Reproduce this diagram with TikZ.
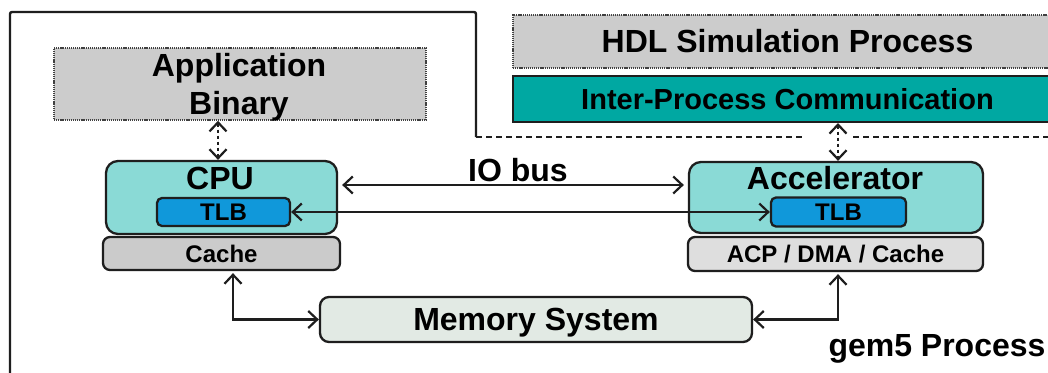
\documentclass[tikz,border=0pt]{standalone}
\usepackage{fontspec}
\setmainfont{Liberation Sans}
\usetikzlibrary{arrows.meta}

\definecolor{edge}{HTML}{1E1E1E}
\definecolor{grayfill}{HTML}{CCCCCC}
\definecolor{ipcfill}{HTML}{00A8A2}
\definecolor{corefill}{HTML}{8ADAD6}
\definecolor{tlbfill}{HTML}{1098DA}
\definecolor{cachefill}{HTML}{CBCBCB}
\definecolor{acpfill}{HTML}{DEDEDE}
\definecolor{memfill}{HTML}{E2EAE4}

\tikzset{
  big/.style={font=\bfseries\fontsize{32}{38}\selectfont, text height=22.9pt, text depth=0pt},
  small/.style={font=\bfseries\fontsize{24}{28}\selectfont, text height=17.2pt, text depth=0pt},
  box/.style={draw=edge, line width=2.3pt, inner sep=0pt},
  dotbox/.style={box, draw=edge!85, line width=1.6pt, dash pattern=on 1.2pt off 0.9pt, fill=grayfill},
  ipcbox/.style={box, fill=ipcfill, line width=2pt},
  corebox/.style={box, fill=corefill, rounded corners=12pt},
  tlbbox/.style={box, fill=tlbfill, rounded corners=5pt},
  cachebox/.style={box, fill=cachefill, rounded corners=7pt},
  acpbox/.style={box, fill=acpfill, rounded corners=7pt},
  membox/.style={box, fill=memfill, rounded corners=9pt},
  tip/.tip={Straight Barb[length=9pt,width=17pt]},
  link/.style={draw=edge, line width=2.2pt, tip-tip},
  dlink/.style={link, dash pattern=on 3pt off 3pt},
  frame/.style={draw=edge, line width=2.4pt, rounded corners=2pt},
  dframe/.style={draw=edge, line width=2.4pt, dash pattern=on 6pt off 4pt},
}

\begin{document}
\begin{tikzpicture}[x=1pt, y=-1pt]
  \useasboundingbox (0,0) rectangle (1048,372);
  \clip (0,0) rectangle (1048,372);
  \fill[white] (0,0) rectangle (1048,372);

  % gem5 process boundary
  \draw[frame] (10,390) -- (10,12) -- (476,12) -- (476,137);
  \draw[dframe] (476,137) -- (805,137);
  \draw[dframe] (853,137) -- (1070,137);

  % HDL side
  \node[dotbox, big, minimum width=549pt, minimum height=53pt] (hdl) at (787.5,41.5) {HDL Simulation Process};
  \node[ipcbox, font=\bfseries\fontsize{29}{34}\selectfont, text height=20.8pt, text depth=0pt,
        minimum width=549pt, minimum height=46pt] (ipc) at (787.5,99) {Inter-Process Communication};

  % application
  \node[dotbox, minimum width=372pt, minimum height=72pt] (app) at (240,84) {};
  \node[font=\bfseries\fontsize{32}{38}\selectfont, align=center, inner sep=0pt] (apptext) at (239,87) {Application\\Binary};

  % CPU
  \node[corebox, minimum width=231pt, minimum height=73pt] (cpu) at (221.5,197.5) {};
  \node[big] (cpuname) at (220,178) {CPU};
  \node[tlbbox, small, minimum width=133pt, minimum height=28pt] (ctlb) at (223.5,212) {TLB};
  \node[cachebox, small, minimum width=237pt, minimum height=33pt] (cache) at (221.5,253.5) {Cache};

  % accelerator
  \node[corebox, minimum width=294pt, minimum height=71pt] (acc) at (836,197.5) {};
  \node[big] (accname) at (835,178) {Accelerator};
  \node[tlbbox, small, minimum width=135pt, minimum height=29pt] (atlb) at (838.5,212) {TLB};
  \node[acpbox, small, minimum width=295pt, minimum height=34pt] (acp) at (835.5,254) {ACP / DMA / Cache};

  % memory
  \node[membox, big, minimum width=432pt, minimum height=45pt] (mem) at (536,319.5) {Memory System};

  % labels
  \node[big] (iobus) at (518,170) {IO bus};
  \node[big] (gem5) at (937,345) {gem5 Process};

  % connector anchor points
  \coordinate (cputop) at ([xshift=-3.5pt]cpu.north);
  \coordinate (acctop) at ([xshift=2pt]acc.north);

  % connectors
  \draw[dlink] (cputop |- app.south) -- (cputop);
  \draw[dlink] (acctop |- ipc.south) -- (acctop);
  \draw[link, shorten <=4pt, shorten >=4pt] ([yshift=12.5pt]cpu.east) -- ([yshift=12.5pt]acc.west);
  \draw[link] (ctlb.east) -- (atlb.west);
  \draw[link, shorten <=2pt] ([xshift=11.5pt]cache.south) |- (mem.west);
  \draw[link, shorten <=2pt] ([xshift=2.5pt]acp.south) |- (mem.east);
\end{tikzpicture}
\end{document}
